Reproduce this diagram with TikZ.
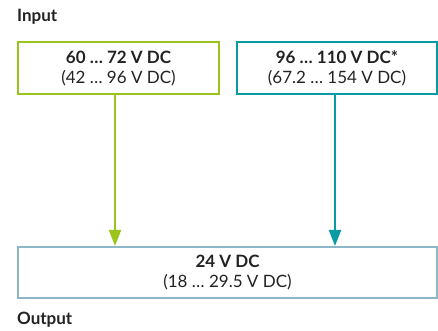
\documentclass[tikz,border=0pt]{standalone}
\usepackage{fontspec}
\setmainfont{Lato}
\usepackage{tikz}
\usetikzlibrary{arrows.meta, positioning}

\definecolor{lgreen}{HTML}{9AC31C}
\definecolor{lteal}{HTML}{0A9AA3}
\definecolor{lgrey}{HTML}{8DB6C6}
\definecolor{ltext}{HTML}{222222}

\begin{document}
\begin{tikzpicture}[
            x=1pt, y=1pt,
            box/.style={draw, line width=2pt, minimum height=52pt,
                        text centered, align=center, font=\fontsize{17}{20}\selectfont,
                        text=ltext, inner sep=0pt},
            arr/.style={-{Triangle[length=16pt, width=12pt]}, line width=2pt},
            hdr/.style={font=\bfseries\fontsize{17}{20}\selectfont, text=ltext,
                        anchor=west, inner sep=0pt}]

            \useasboundingbox (0,0) rectangle (438,331);

            %% Headings
            \node[hdr] (input)  at (17,314) {Input};
            \node[hdr] (output) at (17,11)  {Output};

            %% Boxes
            \node[box, draw=lgreen, minimum width=201pt] (in1) at (118.5,262.5)
                {\textbf{60 … 72 V DC}\\(42 … 96 V DC)};
            \node[box, draw=lteal, minimum width=200pt] (in2) at (337,262.5)
                {\textbf{96 … 110 V DC*}\\(67.2 … 154 V DC)};
            \node[box, draw=lgrey, minimum width=419pt, minimum height=51pt] (out) at (227.5,58.5)
                {\textbf{24 V DC}\\(18 … 29.5 V DC)};

            %% Arrows
            \draw[arr, lgreen] ([xshift=-3.5pt]in1.south) -- ([xshift=-3.5pt]in1.south |- out.north);
            \draw[arr, lteal]  ([xshift=-2pt]in2.south)   -- ([xshift=-2pt]in2.south |- out.north);

        \end{tikzpicture}
\end{document}
